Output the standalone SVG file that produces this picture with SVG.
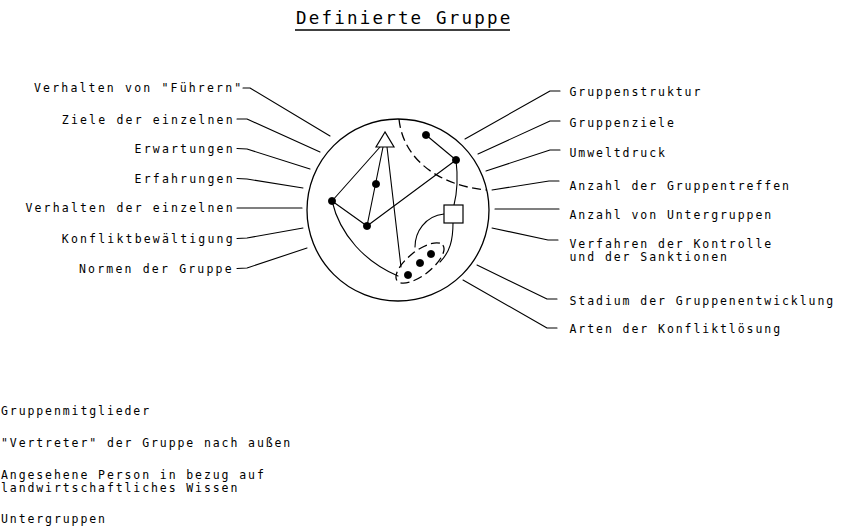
<svg xmlns="http://www.w3.org/2000/svg" width="854" height="531" viewBox="0 0 854 531">
<style>
  text { font-family: "DejaVu Sans Mono", "Liberation Mono", monospace; fill: #000; }
  .l { font-size: 11.5px; letter-spacing: 2.18px; }
  .r { font-size: 11.5px; letter-spacing: 1.93px; }
  .g { font-size: 11.5px; letter-spacing: 1.9px; }
  .t { font-size: 17.5px; letter-spacing: 2.2px; }
  .ln { fill: none; stroke: #000; stroke-width: 1.1; stroke-linejoin: round; stroke-linecap: round; }
  .dash { fill: none; stroke: #000; stroke-width: 1.3; stroke-dasharray: 9 4.5; }
  .dot { fill: #000; stroke: #000; stroke-width: 0.8; }
</style>
<rect width="854" height="531" fill="#fff"/>

<g id="title">
  <text class="t" x="296" y="24">Definierte Gruppe</text>
  <line x1="295" y1="30" x2="510" y2="30" stroke="#000" stroke-width="1.3"/>
</g>

<g id="group-circle">
  <circle cx="398" cy="210" r="91" fill="none" stroke="#000" stroke-width="1.3"/>
  <path class="dash" d="M399,119 C403,160 440,186 487,190"/>
  <ellipse class="dash" cx="420" cy="263" rx="29" ry="12" transform="rotate(-38 420 263)" stroke-dasharray="8 4"/>
  <g id="inner-lines">
    <line class="ln" x1="380" y1="147" x2="332" y2="201"/>
    <line class="ln" x1="383" y1="147" x2="367" y2="226"/>
    <line class="ln" x1="387" y1="147" x2="401" y2="267"/>
    <line class="ln" x1="332" y1="201" x2="367" y2="226"/>
    <line class="ln" x1="367" y1="226" x2="456" y2="160"/>
    <line class="ln" x1="426" y1="135" x2="456" y2="160"/>
    <path class="ln" d="M456,160 Q459,185 454,205"/>
    <path class="ln" d="M453,223 C453,240 450,252 440,262"/>
    <path class="ln" d="M444,214 C425,216 415,232 415,247"/>
    <path class="ln" d="M332,201 C340,235 365,262 398,276"/>
  </g>
  <polygon id="leader" points="385,132 376,147 394,147" fill="#fff" stroke="#000" stroke-width="1.2" stroke-linejoin="miter"/>
  <rect id="subgroup" x="444" y="205" width="19" height="18" fill="#fff" stroke="#000" stroke-width="1.2"/>
  <g id="members">
    <circle class="dot" cx="426" cy="135" r="3.6"/>
    <circle class="dot" cx="456" cy="160" r="3.6"/>
    <circle class="dot" cx="376" cy="184" r="3.6"/>
    <circle class="dot" cx="332" cy="201" r="3.6"/>
    <circle class="dot" cx="367" cy="226" r="3.6"/>
    <circle class="dot" cx="408" cy="275" r="3.6"/>
    <circle class="dot" cx="420" cy="263" r="3.6"/>
    <circle class="dot" cx="431" cy="254" r="3.6"/>
  </g>
</g>

<g id="connectors">
  <polyline class="ln" points="243,88 250,88 330,136"/>
  <polyline class="ln" points="237,119 247,119 320,152"/>
  <polyline class="ln" points="237,148.5 247,149 310,169"/>
  <polyline class="ln" points="237,178.5 247,179 303,188"/>
  <polyline class="ln" points="237,208 302,208"/>
  <polyline class="ln" points="237,238.5 247,238 303,228"/>
  <polyline class="ln" points="237,268.5 247,268 307,248"/>

  <polyline class="ln" points="465,139 550,91 560,91"/>
  <polyline class="ln" points="478,154 550,121 560,121"/>
  <polyline class="ln" points="486,171 550,150 560,150"/>
  <polyline class="ln" points="492,190 549,181 559,181"/>
  <polyline class="ln" points="495,209 559,209"/>
  <polyline class="ln" points="492,228 548,240 558,240"/>
  <polyline class="ln" points="477,265 547,299 557,299"/>
  <polyline class="ln" points="463,280 547,328 557,328"/>
</g>

<g id="left-labels">
  <text class="l" x="34" y="91.5">Verhalten von "Führern"</text>
  <text class="l" x="61.8" y="123.5">Ziele der einzelnen</text>
  <text class="l" x="134.6" y="152.8">Erwartungen</text>
  <text class="l" x="134.6" y="182.8">Erfahrungen</text>
  <text class="l" x="25.4" y="212">Verhalten der einzelnen</text>
  <text class="l" x="61.8" y="242.5">Konfliktbewältigung</text>
  <text class="l" x="79" y="272.8">Normen der Gruppe</text>
</g>

<g id="right-labels">
  <text class="r" x="569.5" y="96">Gruppenstruktur</text>
  <text class="r" x="569.5" y="127">Gruppenziele</text>
  <text class="r" x="569.5" y="157">Umweltdruck</text>
  <text class="r" x="569.5" y="189.5">Anzahl der Gruppentreffen</text>
  <text class="r" x="569.5" y="218.5">Anzahl von Untergruppen</text>
  <text class="r" x="569.5" y="247.5">Verfahren der Kontrolle</text>
  <text class="r" x="569.5" y="261">und der Sanktionen</text>
  <text class="r" x="569.5" y="305">Stadium der Gruppenentwicklung</text>
  <text class="r" x="569.5" y="333">Arten der Konfliktlösung</text>
</g>

<g id="legend">
  <text class="g" x="1" y="415">Gruppenmitglieder</text>
  <text class="g" x="1" y="446.5">"Vertreter" der Gruppe nach außen</text>
  <text class="g" x="1" y="479">Angesehene Person in bezug auf</text>
  <text class="g" x="1" y="491.5">landwirtschaftliches Wissen</text>
  <text class="g" x="1" y="523">Untergruppen</text>
</g>
</svg>
